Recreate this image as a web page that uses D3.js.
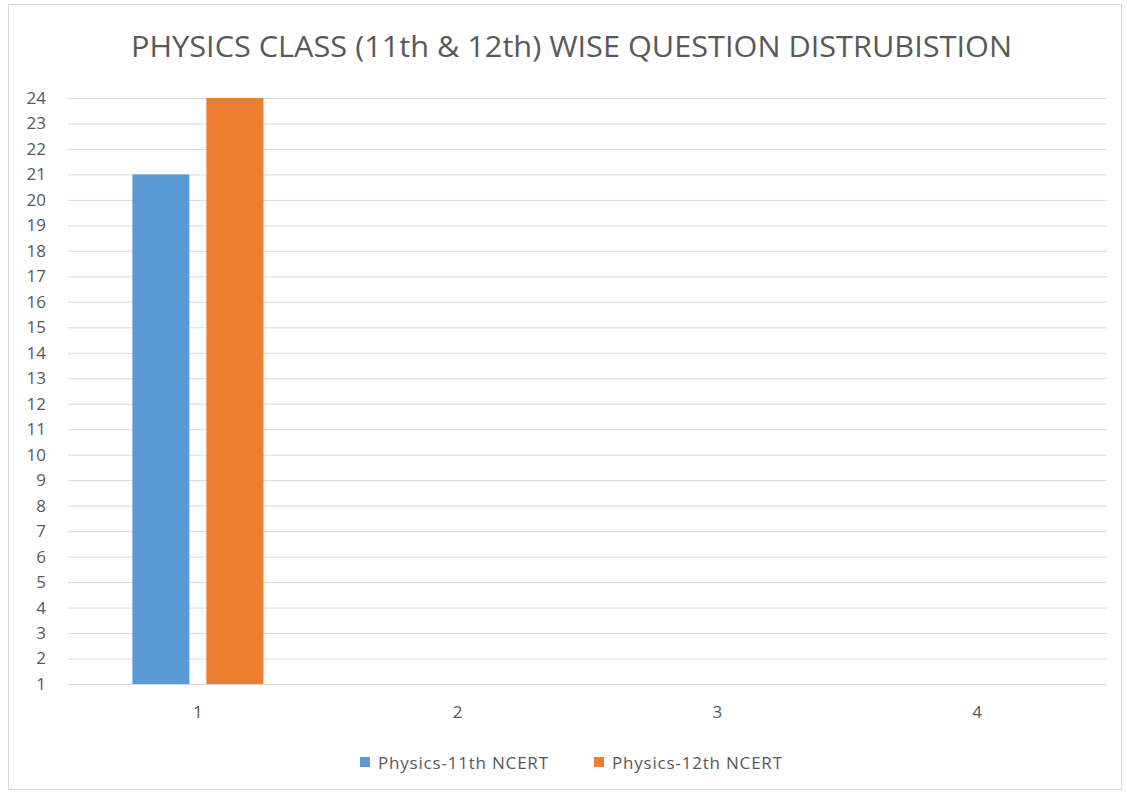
<!DOCTYPE html>
<html><head><meta charset="utf-8">
<script src="https://cdn.jsdelivr.net/npm/d3@7"></script>
<style>body{margin:0;background:#fff;} svg{display:block;font-family:"Open Sans",sans-serif;}</style>
</head><body>
<svg id="c" width="1127" height="796"></svg>
<script>
const title = "PHYSICS CLASS (11th & 12th) WISE QUESTION DISTRUBISTION";
const categories = ["1","2","3","4"];
const seriesNames = ["Physics-11th NCERT","Physics-12th NCERT"];
const seriesColors = ["#5b9bd5","#ed7d31"];
const physics11 = [21, null, null, null];
const physics12 = [24, null, null, null];
const yTicks = d3.range(1, 25);

const svg = d3.select("#c");
svg.append("rect").attr("x",8.5).attr("y",4.5).attr("width",1113).attr("height",785)
  .attr("fill","#fff").attr("stroke","#d9d9d9");

const m = {left:68, right:1107, top:98, bottom:684};
const x = d3.scaleBand().domain(categories).range([m.left, m.right]);
const y = d3.scaleLinear().domain([1,24]).range([m.bottom, m.top]);
const xs = d3.scaleBand().domain(seriesNames).range([0, x.bandwidth()]).paddingInner(0.23).paddingOuter(0.87);

svg.append("text").attr("x",131).attr("y",57)
  .attr("font-size",29).attr("fill","#595959")
  .attr("textLength",881).attr("lengthAdjust","spacingAndGlyphs").text(title);

const grid = svg.append("g").attr("transform",`translate(${m.left},0)`)
  .call(d3.axisLeft(y).tickValues(yTicks).tickSize(-(m.right-m.left)).tickFormat(""));
grid.select(".domain").remove();
grid.selectAll("line").attr("stroke","#d9d9d9");

const ya = svg.append("g").attr("transform",`translate(46,0)`)
  .call(d3.axisLeft(y).tickValues(yTicks).tickSize(0).tickPadding(0).tickFormat(d3.format("d")));
ya.select(".domain").remove();
ya.selectAll("text").attr("font-size",17).attr("fill","#595959").attr("font-family","Open Sans");

const xa = svg.append("g").attr("transform",`translate(0,${m.bottom})`)
  .call(d3.axisBottom(x).tickSize(0).tickPadding(22));
xa.select(".domain").remove();
xa.selectAll("text").attr("font-size",17).attr("fill","#595959").attr("font-family","Open Sans");

const data = [physics11, physics12];
data.forEach((vals, si) => {
  svg.append("g").selectAll("rect").data(categories.map((c,i)=>({c, v: vals[i]})).filter(d=>d.v!=null))
    .join("rect")
    .attr("x", d => x(d.c) + xs(seriesNames[si]))
    .attr("width", xs.bandwidth())
    .attr("y", d => y(d.v))
    .attr("height", d => y(1) - y(d.v))
    .attr("fill", seriesColors[si]);
});

const leg = svg.append("g");
const legX = [360, 594];
seriesNames.forEach((n,i)=>{
  leg.append("rect").attr("x",legX[i]).attr("y",757).attr("width",10).attr("height",10).attr("fill",seriesColors[i]);
  leg.append("text").attr("x",legX[i]+18).attr("y",769).attr("font-size",17).attr("letter-spacing",0.8).attr("fill","#595959").text(n);
});
</script>
</body></html>
